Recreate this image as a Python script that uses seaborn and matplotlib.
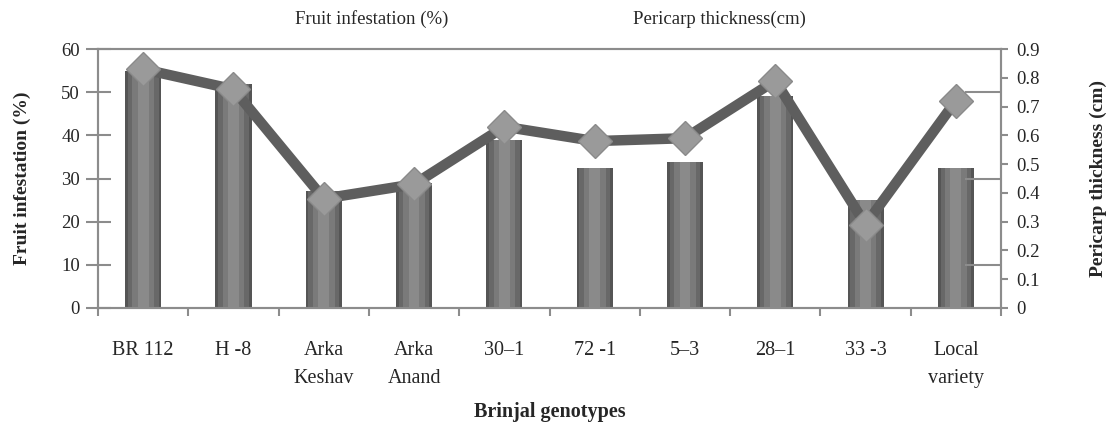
import matplotlib
matplotlib.use('Agg')
import matplotlib.pyplot as plt
import pandas as pd
import seaborn as sns

# data
genotypes = ['BR 112', 'H -8', 'Arka\nKeshav', 'Arka\nAnand', '30\u20131',
             '72 -1', '5\u20133', '28\u20131', '33 -3', 'Local\nvariety']
infestation = [55, 52, 27, 29, 39, 32.4, 33.8, 49, 25, 32.4]
pericarp = [0.83, 0.76, 0.38, 0.43, 0.63, 0.58, 0.59, 0.79, 0.29, 0.72]

df = pd.DataFrame({'genotype': genotypes,
                   'infestation': infestation,
                   'pericarp': pericarp})

sns.set_style('white')
plt.rcParams['font.family'] = ['Liberation Serif', 'DejaVu Serif']

fig = plt.figure(figsize=(11.15, 4.25), dpi=100)
ax = fig.add_axes([0.0879, 0.2753, 0.8099, 0.6094])

# layered bars to get a cylinder-ish shading
shades = [(0.40, '#555555'), (0.34, '#686868'), (0.24, '#7a7a7a'), (0.12, '#8a8a8a')]
for w, c in shades:
    sns.barplot(data=df, x='genotype', y='infestation', color=c,
                width=w, saturation=1, ax=ax, linewidth=0)

ax2 = ax.twinx()
ax2.plot(range(len(genotypes)), df['pericarp'], color='#5e5e5e', lw=7.5,
         marker='D', markersize=17, markerfacecolor='#9a9a9a',
         markeredgecolor='#8a8a8a', markeredgewidth=1, zorder=5)

ax.set_ylim(0, 60)
ax2.set_ylim(0, 0.9)
ax.set_xlim(-0.5, len(genotypes) - 0.5)
ax.set_yticks(range(0, 61, 10))
ax2.set_yticks([i / 10 for i in range(10)])
ax2.set_yticklabels(['0'] + ['%.1f' % (i / 10) for i in range(1, 10)])
ax2.set_yticks([0.15, 0.3, 0.45, 0.6, 0.75], minor=True)

# tick marks between categories, labels at centers
ax.set_xticks([i - 0.5 for i in range(len(genotypes) + 1)])
ax.set_xticklabels([])
ax.set_xticks(range(len(genotypes)), minor=True)
ax.set_xticklabels(genotypes, minor=True, linespacing=1.6)

spine_col = '#8c8c8c'
for a in (ax, ax2):
    for s in a.spines.values():
        s.set_color(spine_col)
        s.set_linewidth(1.5)
ax.tick_params(axis='x', which='major', direction='out', length=6, width=1.5,
               color=spine_col, bottom=True)
ax.tick_params(axis='x', which='minor', length=0, pad=24, labelsize=14.5)
ax.tick_params(axis='y', direction='inout', length=18, width=1.5,
               color=spine_col, left=True, labelsize=13.5, pad=4)
ax2.tick_params(axis='y', which='major', direction='out', length=5, width=1.5,
                color=spine_col, right=True, labelsize=13.5, pad=6)
ax2.tick_params(axis='y', which='minor', direction='in', length=26, width=1.5,
                color=spine_col, right=True)

ax.set_xlabel('Brinjal genotypes', fontsize=14.5, fontweight='bold', labelpad=10)
ax.set_ylabel('Fruit infestation (%)', fontsize=14, fontweight='bold', labelpad=22)
ax2.set_ylabel('Pericarp thickness (cm)', fontsize=14, fontweight='bold', labelpad=36)

fig.text(0.333, 0.955, 'Fruit infestation (%)', ha='center', va='center', fontsize=13.5)
fig.text(0.645, 0.955, 'Pericarp thickness(cm)', ha='center', va='center', fontsize=13.5)

fig.savefig('out.png', dpi=100, facecolor='white')
